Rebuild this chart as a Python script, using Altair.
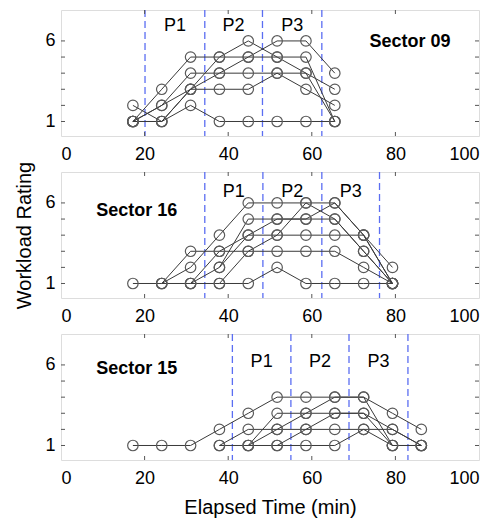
import altair as alt
import pandas as pd

# Elapsed-time grid (min) at which ratings were recorded
times = [17.2, 24.1, 31.0, 37.9, 44.8, 51.7, 58.6, 65.5, 72.4, 79.3, 86.2]

# Sector 09 workload ratings (one list per controller, None = no rating)
s09_a = [1, 1, 2, 1, 1, 1, 1, 1, None, None, None]
s09_b = [1, 3, 5, 5, 5, 5, 5, 1, None, None, None]
s09_c = [1, 2, 4, 4, 4, 4, 4, 1, None, None, None]
s09_d = [2, 1, 3, 3, 3, 4, 3, 2, None, None, None]
s09_e = [1, 2, 3, 4, 5, 6, 6, 4, None, None, None]
s09_f = [1, 1, 3, 5, 6, 5, 4, 3, None, None, None]

# Sector 16
s16_a = [1, 1, 1, 1, 1, 2, 1, 1, 1, 1, None]
s16_b = [None, 1, 3, 3, 3, 3, 3, 3, 2, 1, None]
s16_c = [None, 1, 2, 4, 6, 6, 6, 6, 4, 1, None]
s16_d = [None, None, 1, 2, 5, 5, 5, 5, 3, 1, None]
s16_e = [None, None, 1, 3, 4, 4, 4, 4, 4, 2, None]
s16_f = [None, None, None, 1, 3, 4, 6, 5, 3, 1, None]
s16_g = [None, None, None, 2, 4, 5, 5, 6, 4, 1, None]

# Sector 15
s15_a = [1, 1, 1, 2, 3, 4, 4, 4, 4, 3, 2]
s15_b = [None, None, None, 1, 2, 2, 2, 2, 2, 1, 1]
s15_c = [None, None, None, 1, 1, 3, 3, 3, 3, 2, 1]
s15_d = [None, None, None, None, 1, 2, 3, 4, 4, 1, 1]
s15_e = [None, None, None, None, 1, 1, 2, 3, 3, 1, None]
s15_f = [None, None, None, None, None, 1, 1, 1, 2, 2, 1]

# Phase boundaries (dashed lines) per sector
dashes09 = [20.1, 34.4, 48.2, 62.4]
dashes16 = [34.4, 48.3, 62.4, 76.2]
dashes15 = [41.0, 55.0, 68.9, 83.0]

phase_names = ["P1", "P2", "P3"]
phase_label_y = [6.9, 6.7, 6.2]

sector_names = ["Sector 09", "Sector 16", "Sector 15"]
sector_label_x = [83.5, 18.1, 18.1]
sector_label_y = [5.95, 5.5, 5.75]

x_ticks = [20, 40, 60, 80]
x_labels = [0, 20, 40, 60, 80, 100]
y_ticks = [1, 2, 3, 4, 5, 6]
y_labels = [1, 6]

W, H = 418, 126
FONT = "Liberation Sans"
XS = alt.Scale(domain=[0, 100], nice=False, zero=False)
YS = alt.Scale(domain=[0.1, 7.92], nice=False, zero=False)

panels = [
    ([s09_a, s09_b, s09_c, s09_d, s09_e, s09_f], dashes09),
    ([s16_a, s16_b, s16_c, s16_d, s16_e, s16_f, s16_g], dashes16),
    ([s15_a, s15_b, s15_c, s15_d, s15_e, s15_f], dashes15),
]

tick_x_df = pd.DataFrame({"v": x_ticks})
tick_y_df = pd.DataFrame({"v": y_ticks})


def make_panel(i, series, dashes):
    rows = []
    for si, s in enumerate(series):
        for k, v in enumerate(s):
            if v is not None:
                rows.append({"series": si, "time": times[k], "rating": v})
    df = pd.DataFrame(rows)
    dash_df = pd.DataFrame({"x": dashes})
    mids = [(dashes[j] + dashes[j + 1]) / 2 for j in range(3)]
    p_df = pd.DataFrame({"x": mids, "y": [phase_label_y[i]] * 3, "t": phase_names})
    s_df = pd.DataFrame({"x": [sector_label_x[i]], "y": [sector_label_y[i]], "t": [sector_names[i]]})

    xtitle = "Elapsed Time (min)" if i == 2 else None
    ytitle = "Workload Rating" if i == 1 else None
    xax = alt.Axis(values=x_labels, ticks=False, domain=False, grid=False, labelFontSize=18,
                   labelFont=FONT, labelColor="black", labelPadding=9, title=xtitle,
                   titleFont=FONT, titleFontSize=20, titleFontWeight="normal",
                   titleColor="black", titlePadding=10)
    yax = alt.Axis(values=y_labels, ticks=False, domain=False, grid=False, labelFontSize=18,
                   labelFont=FONT, labelColor="black", labelPadding=6, title=ytitle,
                   titleFont=FONT, titleFontSize=20, titleFontWeight="normal",
                   titleColor="black", titlePadding=10)

    def X(f):
        return alt.X(f, type="quantitative", scale=XS, axis=xax)

    def Y(f):
        return alt.Y(f, type="quantitative", scale=YS, axis=yax)

    lines = alt.Chart(df).mark_line(color="#3a3a3a", strokeWidth=1).encode(
        x=X("time"), y=Y("rating"), detail="series:N", order="time:Q")
    pts = alt.Chart(df).mark_point(shape="circle", filled=False, size=110, color="#5a5a5a",
                                   strokeWidth=1.2, opacity=1).encode(x=X("time"), y=Y("rating"))
    dash = alt.Chart(dash_df).mark_rule(color="#5b6ef2", strokeDash=[7, 4], strokeWidth=1.3).encode(
        x=X("x"))
    ptxt = alt.Chart(p_df).mark_text(font=FONT, fontSize=18, color="black").encode(
        x=X("x"), y=Y("y"), text="t:N")
    stxt = alt.Chart(s_df).mark_text(font=FONT, fontSize=18, fontWeight="bold", color="black").encode(
        x=X("x"), y=Y("y"), text="t:N")
    tc = "#555555"
    tb = alt.Chart(tick_x_df).mark_rule(color=tc).encode(x=X("v"), y=alt.value(H), y2=alt.value(H - 4))
    tt = alt.Chart(tick_x_df).mark_rule(color=tc).encode(x=X("v"), y=alt.value(0), y2=alt.value(4))
    tl = alt.Chart(tick_y_df).mark_rule(color=tc).encode(y=Y("v"), x=alt.value(0), x2=alt.value(4))
    tr = alt.Chart(tick_y_df).mark_rule(color=tc).encode(y=Y("v"), x=alt.value(W), x2=alt.value(W - 4))
    return alt.layer(dash, lines, pts, ptxt, stxt, tb, tt, tl, tr).properties(width=W, height=H)


chart = alt.vconcat(*[make_panel(i, s, d) for i, (s, d) in enumerate(panels)],
                    spacing=36, bounds="flush").properties(
    padding={"left": 6, "top": 0, "right": 5, "bottom": 5}
).configure_view(stroke="#6e6e6e", strokeWidth=1).configure(background="white")

chart.save("out.html", embed_options={"renderer": "svg", "actions": False})
